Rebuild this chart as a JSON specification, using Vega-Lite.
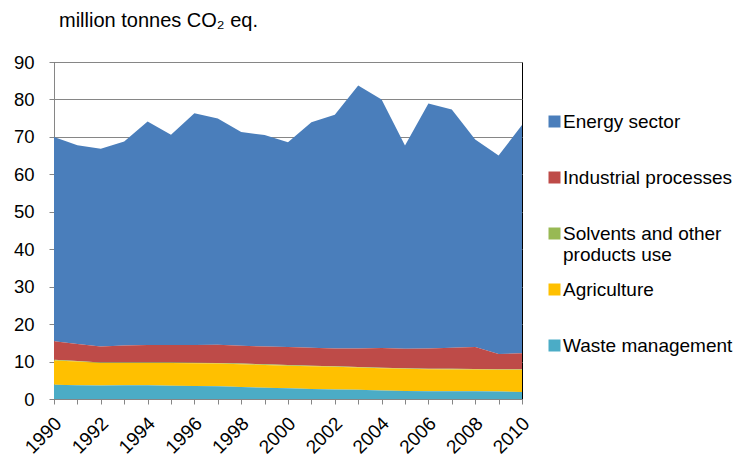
{
  "$schema": "https://vega.github.io/schema/vega-lite/v6.json",
  "width": 468,
  "height": 337,
  "autosize": {"type": "none"},
  "padding": {"left": 54, "top": 62, "right": 219, "bottom": 60},
  "background": "white",
  "config": {
    "font": "Liberation Sans",
    "view": {"stroke": "#000", "strokeWidth": 1}
  },
  "title": {
    "text": "million tonnes CO₂ eq.",
    "anchor": "start",
    "frame": "group",
    "dx": 5,
    "offset": 22,
    "fontSize": 20,
    "fontWeight": "normal",
    "color": "#000"
  },
  "data": {
    "values": [
      {"year": 1990, "Energy sector": 54.6, "Industrial processes": 4.95, "Solvents and other products use": 0.15, "Agriculture": 6.5, "Waste management": 3.8},
      {"year": 1991, "Energy sector": 53.1, "Industrial processes": 4.55, "Solvents and other products use": 0.15, "Agriculture": 6.3, "Waste management": 3.7},
      {"year": 1992, "Energy sector": 52.8, "Industrial processes": 4.25, "Solvents and other products use": 0.15, "Agriculture": 6.0, "Waste management": 3.6},
      {"year": 1993, "Energy sector": 54.5, "Industrial processes": 4.55, "Solvents and other products use": 0.15, "Agriculture": 5.95, "Waste management": 3.65},
      {"year": 1994, "Energy sector": 59.7, "Industrial processes": 4.65, "Solvents and other products use": 0.15, "Agriculture": 5.9, "Waste management": 3.7},
      {"year": 1995, "Energy sector": 56.2, "Industrial processes": 4.65, "Solvents and other products use": 0.15, "Agriculture": 6.05, "Waste management": 3.55},
      {"year": 1996, "Energy sector": 61.9, "Industrial processes": 4.7, "Solvents and other products use": 0.15, "Agriculture": 6.1, "Waste management": 3.45},
      {"year": 1997, "Energy sector": 60.4, "Industrial processes": 4.9, "Solvents and other products use": 0.15, "Agriculture": 6.05, "Waste management": 3.4},
      {"year": 1998, "Energy sector": 57.1, "Industrial processes": 4.75, "Solvents and other products use": 0.15, "Agriculture": 6.1, "Waste management": 3.2},
      {"year": 1999, "Energy sector": 56.5, "Industrial processes": 4.75, "Solvents and other products use": 0.15, "Agriculture": 6.1, "Waste management": 3.0},
      {"year": 2000, "Energy sector": 54.7, "Industrial processes": 4.85, "Solvents and other products use": 0.15, "Agriculture": 6.0, "Waste management": 2.9},
      {"year": 2001, "Energy sector": 60.2, "Industrial processes": 4.8, "Solvents and other products use": 0.15, "Agriculture": 6.05, "Waste management": 2.7},
      {"year": 2002, "Energy sector": 62.4, "Industrial processes": 4.75, "Solvents and other products use": 0.15, "Agriculture": 6.05, "Waste management": 2.55},
      {"year": 2003, "Energy sector": 70.25, "Industrial processes": 4.95, "Solvents and other products use": 0.15, "Agriculture": 5.95, "Waste management": 2.45},
      {"year": 2004, "Energy sector": 66.4, "Industrial processes": 5.25, "Solvents and other products use": 0.15, "Agriculture": 5.95, "Waste management": 2.25},
      {"year": 2005, "Energy sector": 54.3, "Industrial processes": 5.2, "Solvents and other products use": 0.15, "Agriculture": 5.9, "Waste management": 2.15},
      {"year": 2006, "Energy sector": 65.4, "Industrial processes": 5.4, "Solvents and other products use": 0.15, "Agriculture": 5.85, "Waste management": 2.1},
      {"year": 2007, "Energy sector": 63.6, "Industrial processes": 5.65, "Solvents and other products use": 0.15, "Agriculture": 5.8, "Waste management": 2.1},
      {"year": 2008, "Energy sector": 55.4, "Industrial processes": 5.9, "Solvents and other products use": 0.15, "Agriculture": 5.8, "Waste management": 2.05},
      {"year": 2009, "Energy sector": 53.0, "Industrial processes": 4.05, "Solvents and other products use": 0.15, "Agriculture": 5.8, "Waste management": 2.0},
      {"year": 2010, "Energy sector": 61.0, "Industrial processes": 4.25, "Solvents and other products use": 0.15, "Agriculture": 5.9, "Waste management": 1.9}
    ]
  },
  "transform": [
    {"fold": ["Energy sector", "Industrial processes", "Solvents and other products use", "Agriculture", "Waste management"], "as": ["sector", "value"]},
    {"calculate": "indexof(['Waste management','Agriculture','Solvents and other products use','Industrial processes','Energy sector'], datum.sector)", "as": "ord"}
  ],
  "mark": {"type": "area", "opacity": 1},
  "encoding": {
    "x": {
      "field": "year",
      "type": "quantitative",
      "scale": {"domain": [1990, 2010], "nice": false, "zero": false},
      "axis": {
        "title": null,
        "values": [1990,1991,1992,1993,1994,1995,1996,1997,1998,1999,2000,2001,2002,2003,2004,2005,2006,2007,2008,2009,2010],
        "labelExpr": "datum.value % 2 == 0 ? format(datum.value, 'd') : ''",
        "labelAngle": -45,
        "labelAlign": "right",
        "labelBaseline": "middle",
        "labelFontSize": 19,
        "labelColor": "#000",
        "labelPadding": 16,
        "labelOffset": 4,
        "labelOverlap": false,
        "labelFlush": false,
        "grid": false,
        "domainColor": "#868686",
        "tickColor": "#868686",
        "tickSize": 5
      }
    },
    "y": {
      "field": "value",
      "type": "quantitative",
      "stack": "zero",
      "scale": {"domain": [0, 90], "nice": false},
      "axis": {
        "title": null,
        "values": [0,10,20,30,40,50,60,70,80,90],
        "labelFontSize": 18.5,
        "labelColor": "#000",
        "labelPadding": 15,
        "gridColor": "#868686",
        "gridOpacity": 1,
        "domainColor": "#868686",
        "tickColor": "#868686",
        "tickSize": 5
      }
    },
    "color": {
      "field": "sector",
      "type": "nominal",
      "scale": {
        "domain": ["Energy sector", "Industrial processes", "Solvents and other products use", "Agriculture", "Waste management"],
        "range": ["#4a7ebb", "#be4b48", "#98b954", "#ffc000", "#4bacc6"]
      },
      "legend": {
        "title": null,
        "orient": "none",
        "legendX": 491,
        "legendY": 50,
        "padding": 0,
        "gridAlign": "all",
        "symbolType": "square",
        "symbolSize": 144,
        "symbolStrokeWidth": 0,
        "symbolOpacity": 1,
        "labelFontSize": 19,
        "labelColor": "#000",
        "labelOffset": -1,
        "labelLimit": 300,
        "rowPadding": 15,
        "labelExpr": "datum.label == 'Solvents and other products use' ? ['Solvents and other', 'products use'] : datum.label"
      }
    },
    "order": {"field": "ord", "type": "quantitative"}
  }
}
